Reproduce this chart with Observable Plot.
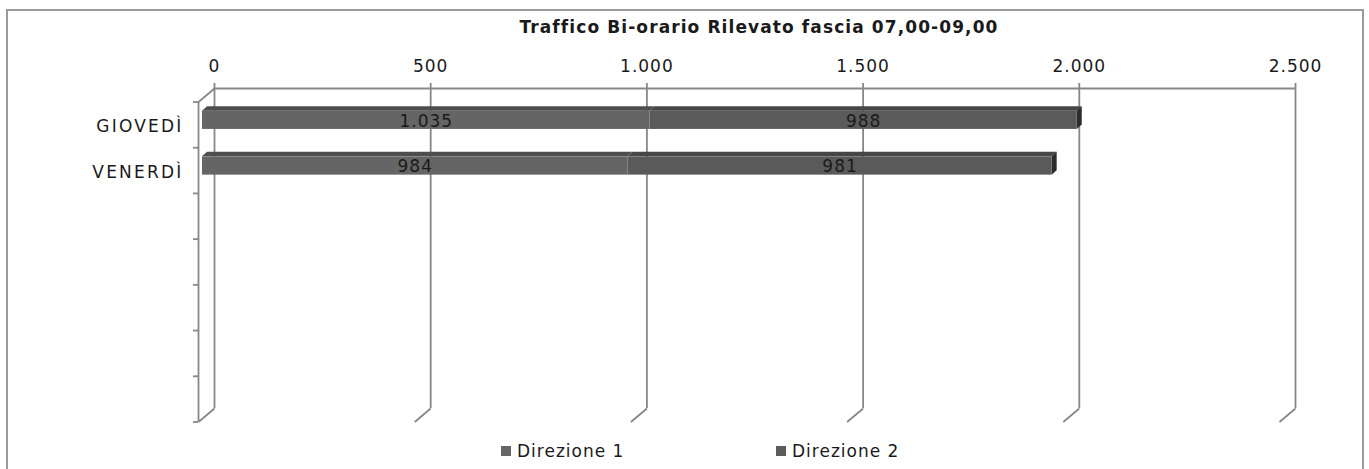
<!DOCTYPE html>
<html><head><meta charset="utf-8">
<script src="https://cdn.jsdelivr.net/npm/d3@7"></script>
<script src="https://cdn.jsdelivr.net/npm/@observablehq/plot@0.6"></script>
<style>
body{margin:0;background:#fff;overflow:hidden;}
#wrap{position:relative;width:1369px;height:469px;overflow:hidden;font-family:"DejaVu Sans",Verdana,sans-serif;color:#1a1a1a;}
#frame{position:absolute;left:6px;top:9px;width:1358px;height:490px;border:2px solid #9a9a9a;box-sizing:border-box;}
#chart{position:absolute;left:0;top:0;}
#title{position:absolute;left:759px;top:17px;transform:translateX(-50%);white-space:nowrap;font-weight:bold;font-size:17px;letter-spacing:1.1px;}
.leg{position:absolute;top:441px;white-space:nowrap;font-size:17px;letter-spacing:1px;line-height:20px;}
.sw{display:inline-block;width:10px;height:10px;margin-right:6px;vertical-align:1px;}
text{letter-spacing:1px;}
.cat text{letter-spacing:2.2px;}
</style></head>
<body>
<div id="wrap">
  <div id="frame"></div>
  <div id="chart"></div>
  <div id="title"></div>
  <div id="legend"></div>
</div>
<script>
// ---- data ----
const title = "Traffico Bi-orario Rilevato fascia 07,00-09,00";
const categories = ["GIOVEDÌ", "VENERDÌ"];
const series = ["Direzione 1", "Direzione 2"];
const direzione1 = [1035, 984];
const direzione2 = [988, 981];
const xTicks = [0, 500, 1000, 1500, 2000, 2500];
const xTickLabels = ["0", "500", "1.000", "1.500", "2.000", "2.500"];
const categorySlots = 7; // category axis has 7 slots, only 2 used

// ---- styles ----
const frontColors = ["#656565", "#5a5a5a"];
const topColors = ["#4e4e4e", "#464646"];
const capColor = "#2c2c2c";
const gridColor = "#878787";
const gridWidth = 1.8;
const legendColors = ["#666666", "#5c5c5c"];

const W = 1369, H = 469;
const mL = 214, mR = 74, mT = 88, mB = 61;
const pxPerX = (W - mL - mR) / 2500;
const pxPerY = (H - mT - mB) / categorySlots;
// front plane offset (px) and in data units
const FDX = -16, FDY = 13.5;
const PXU = FDX / pxPerX, PYU = FDY / pxPerY;
// bar front face offset and bar depth (data units)
const BDX = -12, BDY = 13.5;
const DXU = 5 / pxPerX, DYU = 4.5 / pxPerY;
const BAR_T = 0.2, BAR_B = 0.6;

const itFmt = d3.formatLocale({decimal: ",", thousands: ".", grouping: [3], currency: ["€", ""]}).format(",d");

const values = [direzione1, direzione2];
const segs = [];
categories.forEach((c, i) => {
  let x0 = 0;
  series.forEach((s, k) => {
    const v = values[k][i];
    segs.push({cat: c, i, k, series: s, a: x0, b: x0 + v, v, key: c + "|" + s});
    x0 += v;
  });
});
const topPts = segs.flatMap(d => [
  {key: d.key, k: d.k, y: d.i + BAR_T, x1: d.a, x2: d.b},
  {key: d.key, k: d.k, y: d.i + BAR_T - DYU, x1: d.a + DXU, x2: d.b + DXU}
]);
const lastSegs = segs.filter(d => d.k === series.length - 1);
const capPts = lastSegs.flatMap(d => [
  {key: d.key, x: d.b, y1: d.i + BAR_T, y2: d.i + BAR_B},
  {key: d.key, x: d.b + DXU, y1: d.i + BAR_T - DYU, y2: d.i + BAR_B - DYU}
]);
const slotEdges = d3.range(categorySlots + 1);

const plot = Plot.plot({
  width: W, height: H,
  marginLeft: mL, marginRight: mR, marginTop: mT, marginBottom: mB,
  x: {domain: [0, 2500], axis: null},
  y: {domain: [0, categorySlots], reverse: true, axis: null},
  style: {fontFamily: "DejaVu Sans, Verdana, sans-serif", fontSize: "17px", background: "transparent", overflow: "visible"},
  marks: [
    // back wall top edge
    Plot.ruleY([0], {x1: 0, x2: 2500, stroke: gridColor, strokeWidth: gridWidth}),
    // vertical gridlines with small ticks above
    Plot.ruleX(xTicks, {y1: 0, y2: categorySlots, insetTop: -5, stroke: gridColor, strokeWidth: gridWidth}),
    // bottom diagonals to front plane
    Plot.link(xTicks, {x1: d => d, y1: categorySlots, x2: d => d + PXU, y2: categorySlots + PYU, stroke: gridColor, strokeWidth: gridWidth}),
    // top-left diagonal
    Plot.link([0], {x1: 0, y1: 0, x2: PXU, y2: PYU, stroke: gridColor, strokeWidth: gridWidth}),
    // front category axis line
    Plot.ruleX([0], {y1: 0, y2: categorySlots, dx: FDX, dy: FDY, stroke: gridColor, strokeWidth: gridWidth}),
    // category ticks
    Plot.ruleY(slotEdges, {x1: 0, x2: 0, insetLeft: -5, dx: FDX, dy: FDY, stroke: gridColor, strokeWidth: gridWidth}),
    // x tick labels (top)
    Plot.text(xTicks, {x: d => d, y: 0, text: (d, j) => xTickLabels[j], dy: -22, fill: "#1a1a1a", fontSize: 17}),
    // category labels
    Plot.text(categories, {x: 0, y: (d, j) => j + 0.5, text: d => d, textAnchor: "end", dx: -31, dy: 15, fill: "#1a1a1a", fontSize: 17, className: "cat"}),
    // bar top faces
    Plot.areaX(topPts, {y: "y", x1: "x1", x2: "x2", z: "key", fill: d => topColors[d.k], dx: BDX, dy: BDY}),
    // end caps
    Plot.areaY(capPts, {x: "x", y1: "y1", y2: "y2", z: "key", fill: capColor, dx: BDX, dy: BDY}),
    // bar front faces
    Plot.rect(segs, {x1: "a", x2: "b", y1: d => d.i + BAR_T, y2: d => d.i + BAR_B, fill: d => frontColors[d.k], dx: BDX, dy: BDY}),
    // value labels
    Plot.text(segs, {x: d => (d.a + d.b) / 2, y: d => d.i + (BAR_T + BAR_B) / 2, text: d => itFmt(d.v), dx: BDX, dy: BDY + 1, fill: "#1a1a1a", fontSize: 17})
  ]
});
document.getElementById("chart").appendChild(plot);
document.getElementById("title").textContent = title;
const legendX = [501, 776];
const leg = document.getElementById("legend");
series.forEach((s, k) => {
  const el = document.createElement("div");
  el.className = "leg";
  el.style.left = legendX[k] + "px";
  el.innerHTML = `<span class="sw" style="background:${legendColors[k]}"></span>`;
  el.appendChild(document.createTextNode(s));
  leg.appendChild(el);
});
</script>
</body></html>
